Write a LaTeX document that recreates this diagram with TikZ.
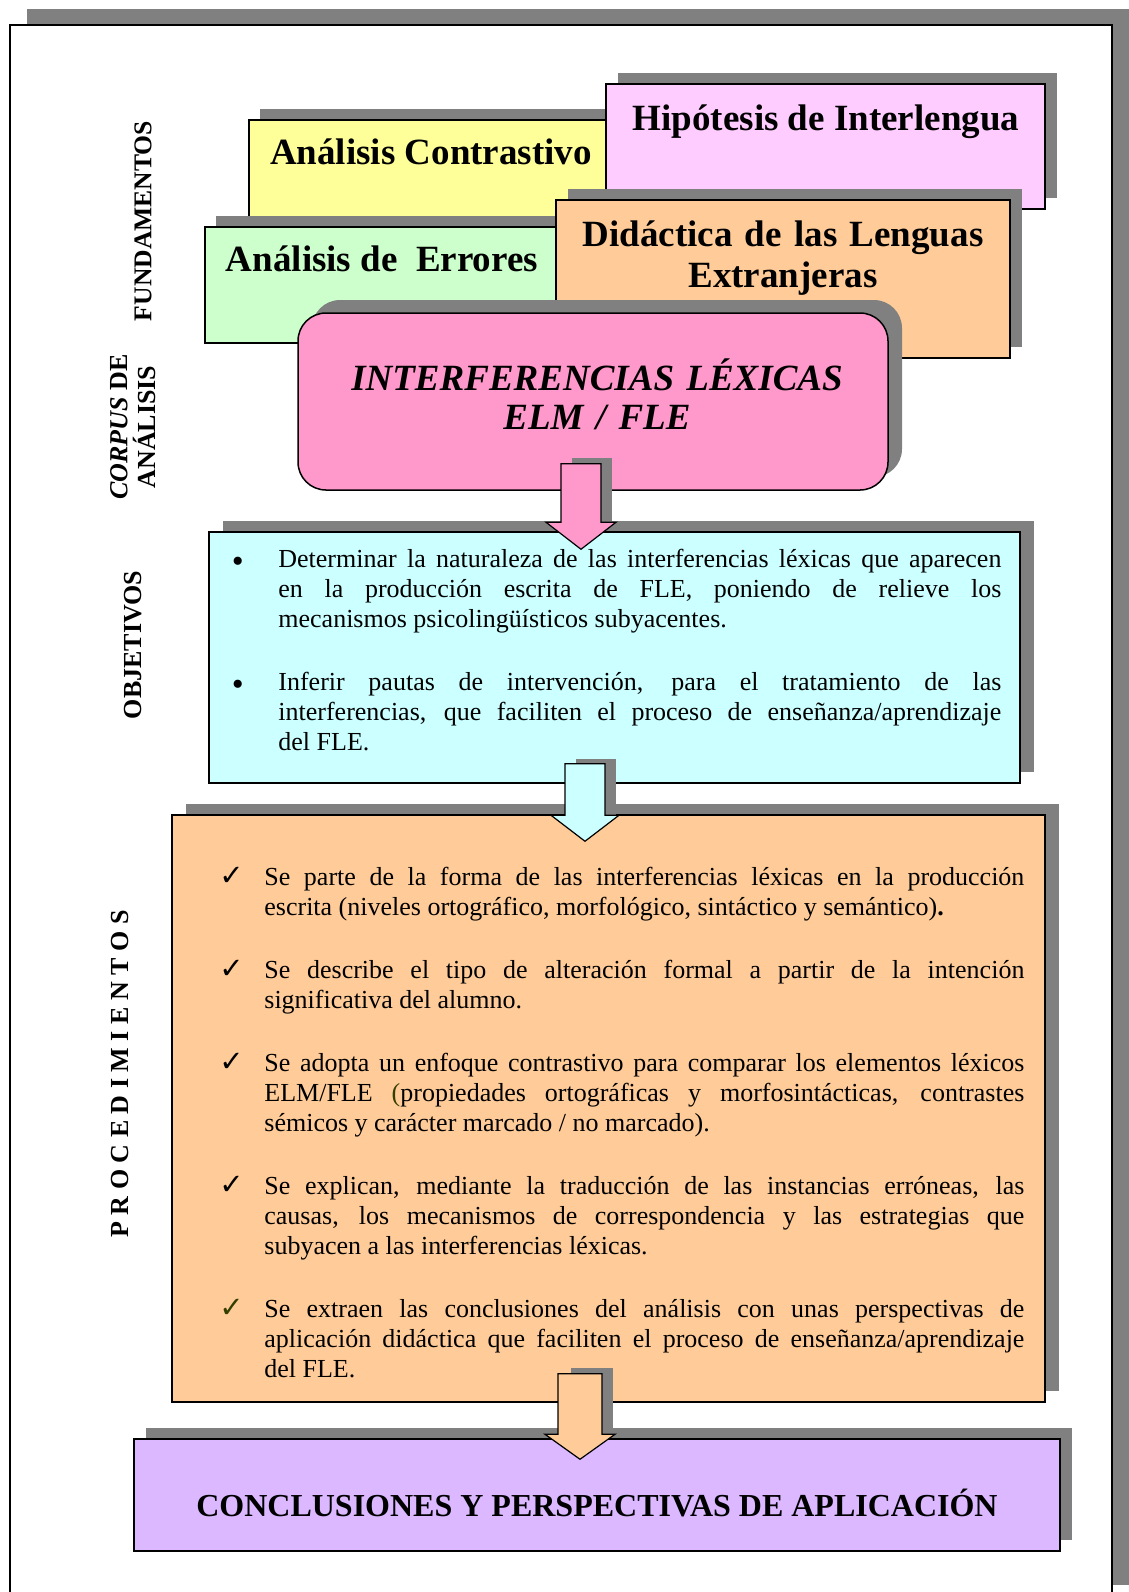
\documentclass[tikz,border=0pt]{standalone}
\usepackage{fontspec}
\setmainfont{Liberation Serif}
\newfontfamily\simbolos{DejaVu Sans}
\usetikzlibrary{calc,fit,shadows}
\definecolor{gris}{HTML}{808080}
\definecolor{amarillo}{HTML}{FFFF99}
\definecolor{lila}{HTML}{FFCCFF}
\definecolor{verde}{HTML}{CCFFCC}
\definecolor{naranja}{HTML}{FFCC99}
\definecolor{rosa}{HTML}{FF99CC}
\definecolor{cian}{HTML}{CCFFFF}
\definecolor{violeta}{HTML}{DBB8FF}
\definecolor{verdeosc}{HTML}{333F00}

\begin{document}
\begin{tikzpicture}[x=0.5pt, y=-0.5pt,
    caja/.style={draw=black, line width=0.75pt, inner sep=0pt},
    sombra/.style 2 args={drop shadow={shadow xshift=#1, shadow yshift=#2, fill=gris, opacity=1}},
    titulo/.style={font=\fontsize{18.5}{20.5}\selectfont\bfseries, inner sep=0pt, anchor=base},
    cuerpo/.style={font=\fontsize{13}{15}\selectfont, inner sep=0pt, anchor=base west, align=justify},
    etiqueta/.style={font=\fontsize{13}{14}\selectfont\bfseries, inner sep=0pt, rotate=90, align=center},
    flecha/.style={draw=black, line width=0.6pt}]
    \useasboundingbox (0,0) rectangle (1129,1592);
    \clip (0,0) rectangle (1129,1592);
    % Page frame with its shadow.
        \draw[line width=1pt, fill=white, sombra={8.5pt}{8pt}] (10,25) rectangle (1112,1601);
    % Below nodes are the four upper boxes.
        \node[caja, fill=amarillo, sombra={5.5pt}{5.5pt}, fit={(249,120) (606,230)}] (contr) {};
        \node[titulo] (contrt) at (431,164.5) {Análisis Contrastivo};
        \node[caja, fill=lila, sombra={6pt}{5.5pt}, fit={(606,84) (1045,209)}] (hipot) {};
        \node[titulo] (hipott) at (826,130) {Hipótesis de Interlengua};
        \node[caja, fill=verde, sombra={5.5pt}{5.5pt}, fit={(205,227) (556,343)}] (errores) {};
        \node[titulo] (errorest) at (382,271.5) {Análisis de\ \ Errores};
        \node[caja, fill=naranja, sombra={6pt}{5.5pt}, fit={(556,200) (1010,358)}] (didac) {};
        \node[titulo, text width=250pt, align=center] (didact) at (783,246) {Didáctica de las Lenguas\\Extranjeras};
    % The corpus box.
        \node[caja, fill=rosa, rounded corners=14pt, sombra={7pt}{6.5pt}, fit={(298,313) (888,490)}] (ilex) {};
        \node[titulo, font=\fontsize{18.5}{19.5}\selectfont\bfseries\itshape, text width=300pt, align=center] (ilext) at (597,390) {INTERFERENCIAS LÉXICAS\\ELM / FLE};
    % Objectives.
        \node[caja, fill=cian, sombra={7pt}{5.5pt}, fit={(209,532) (1020,783)}] (obj) {};
        \node[cuerpo, text width=384.75pt] (objt) at (231.5,567) {%
            \noindent\hangindent=23.25pt\makebox[23.25pt][l]{\raisebox{-2.5pt}{\fontsize{17}{15}\selectfont\textbullet}}Determinar la naturaleza de las interferencias léxicas que aparecen\linebreak
            en la producción escrita de FLE, poniendo de relieve los\linebreak
            mecanismos psicolingüísticos subyacentes.\par\vspace{16.5pt}
            \noindent\hangindent=23.25pt\makebox[23.25pt][l]{\raisebox{-2.5pt}{\fontsize{17}{15}\selectfont\textbullet}}Inferir pautas de intervención, para el tratamiento de las\linebreak
            interferencias, que faciliten el proceso de enseñanza/aprendizaje\linebreak
            del FLE.\par};
    % Procedures.
        \node[caja, fill=naranja, sombra={7pt}{5.5pt}, fit={(172,815) (1045,1402)}] (proc) {};
        \node[cuerpo, text width=402.5pt] (proct) at (219,885) {%
            \noindent\hangindent=22.5pt\makebox[22.5pt][l]{\simbolos\bfseries\fontsize{14.5}{15}\selectfont ✓}Se parte de la forma de las interferencias léxicas en la producción\linebreak
            escrita (niveles ortográfico, morfológico, sintáctico y semántico)\textbf{.}\par\vspace{16.5pt}
            \noindent\hangindent=22.5pt\makebox[22.5pt][l]{\simbolos\bfseries\fontsize{14.5}{15}\selectfont ✓}Se describe el tipo de alteración formal a partir de la intención\linebreak
            significativa del alumno.\par\vspace{16.5pt}
            \noindent\hangindent=22.5pt\makebox[22.5pt][l]{\simbolos\bfseries\fontsize{14.5}{15}\selectfont ✓}Se adopta un enfoque contrastivo para comparar los elementos léxicos\linebreak
            ELM/FLE {\color{verdeosc}(}propiedades ortográficas y morfosintácticas, contrastes\linebreak
            sémicos y carácter marcado / no marcado).\par\vspace{16.5pt}
            \noindent\hangindent=22.5pt\makebox[22.5pt][l]{\simbolos\bfseries\fontsize{14.5}{15}\selectfont ✓}Se explican, mediante la traducción de las instancias erróneas, las\linebreak
            causas, los mecanismos de correspondencia y las estrategias que\linebreak
            subyacen a las interferencias léxicas.\par\vspace{16.5pt}
            \noindent\hangindent=22.5pt\makebox[22.5pt][l]{\simbolos\bfseries\fontsize{14.5}{15}\selectfont\color{verdeosc}✓}Se extraen las conclusiones del análisis con unas perspectivas de\linebreak
            aplicación didáctica que faciliten el proceso de enseñanza/aprendizaje\linebreak
            del FLE.\par};
    % Conclusions.
        \node[caja, fill=violeta, sombra={6pt}{5.5pt}, fit={(134,1439) (1060,1551)}] (concl) {};
        \node[titulo, font=\fontsize{16}{18}\selectfont\bfseries] (conclt) at (597,1516) {CONCLUSIONES Y PERSPECTIVAS DE APLICACIÓN};
    % Side labels.
        \node[etiqueta, font=\fontsize{12.8}{14}\selectfont\bfseries] (fund) at (143,221) {FUNDAMENTOS};
        \node[etiqueta] (corpus) at (133,427) {\textit{CORPUS} DE\\ANÁLISIS};
        \node[etiqueta] (objet) at (133,645) {OBJETIVOS};
        \node[etiqueta] (proced) at (120,1074) {P R O C E D I M I E N T O S};
    % Block arrows between the boxes.
        \coordinate (f1a) at ($(ilex.south)+(-12,-27)$);
        \coordinate (f1b) at ($(f1a |- obj.north)+(0,18)$);
        \fill[gris] ($(f1a)+(-9,-6)$) rectangle ($(f1b)+(31,-27)$);
        \draw[flecha, fill=rosa] ($(f1a)+(-20,0)$) -- ($(f1b)+(-20,-27)$) -- ($(f1b)+(-35,-27)$) -- (f1b)
            -- ($(f1b)+(35,-27)$) -- ($(f1b)+(20,-27)$) -- ($(f1a)+(20,0)$) -- cycle;
        \coordinate (f2a) at ($(obj.south)+(-29.5,-20)$);
        \coordinate (f2b) at ($(f2a |- proc.north)+(0,27)$);
        \fill[gris] ($(f2a)+(-9,-5)$) rectangle ($(f2b)+(31,-26)$);
        \draw[flecha, fill=cian] ($(f2a)+(-20,0)$) -- ($(f2b)+(-20,-26)$) -- ($(f2b)+(-34,-26)$) -- (f2b)
            -- ($(f2b)+(34,-26)$) -- ($(f2b)+(20,-26)$) -- ($(f2a)+(20,0)$) -- cycle;
        \coordinate (f3a) at ($(proc.south)+(-28.5,-29)$);
        \coordinate (f3b) at ($(f3a |- concl.north)+(0,21)$);
        \fill[gris] ($(f3a)+(-9,-6)$) rectangle ($(f3b)+(33,-25)$);
        \draw[flecha, fill=naranja] ($(f3a)+(-22,0)$) -- ($(f3b)+(-22,-25)$) -- ($(f3b)+(-35,-25)$) -- (f3b)
            -- ($(f3b)+(35,-25)$) -- ($(f3b)+(22,-25)$) -- ($(f3a)+(22,0)$) -- cycle;
\end{tikzpicture}
\end{document}
